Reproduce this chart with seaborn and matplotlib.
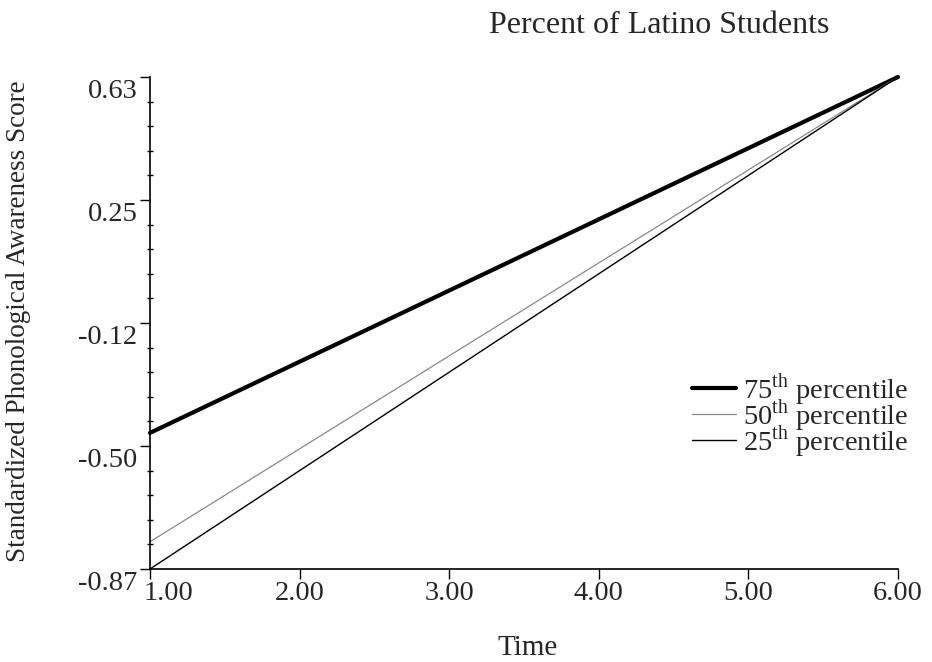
import numpy as np
import pandas as pd
import matplotlib
matplotlib.use('Agg')
import matplotlib.pyplot as plt
import matplotlib.transforms as mtransforms
from matplotlib.ticker import FixedLocator, AutoMinorLocator
import seaborn as sns

# values
time = [1.0, 6.0]
p75 = [-0.455, 0.63]
p50 = [-0.787, 0.63]
p25 = [-0.87, 0.63]
y_ticks = [-0.87, -0.495, -0.12, 0.255, 0.63]
y_labels = ['-0.87', '-0.50', '-0.12', '0.25', '0.63']
x_ticks = [1, 2, 3, 4, 5, 6]
x_labels = ['1.00', '2.00', '3.00', '4.00', '5.00', '6.00']

sns.set_style('white')
plt.rcParams['font.family'] = ['Liberation Serif', 'DejaVu Serif']
plt.rcParams['mathtext.fontset'] = 'custom'
plt.rcParams['mathtext.rm'] = 'Liberation Serif'

fig = plt.figure(figsize=(9.32, 6.62), dpi=100)
ax = fig.add_axes([150/932, 1-569/662, (898-150)/932, (569-77)/662])

df = pd.DataFrame({'time': time * 3,
                   'score': p75 + p50 + p25,
                   'grp': ['75'] * 2 + ['50'] * 2 + ['25'] * 2})

styles = {'75': ('black', 3.0, r'75$^{\mathrm{th}}$ percentile'),
          '50': ('#888888', 0.9, r'50$^{\mathrm{th}}$ percentile'),
          '25': ('black', 1.0, r'25$^{\mathrm{th}}$ percentile')}
for g, (c, lw, lab) in styles.items():
    sns.lineplot(data=df[df.grp == g], x='time', y='score', color=c,
                 linewidth=lw, label=lab, ax=ax, clip_on=False)

ax.set_xlim(1, 6)
ax.set_ylim(-0.87, 0.63)
sns.despine(ax=ax)
for s in ['left', 'bottom']:
    ax.spines[s].set_color('black')
    ax.spines[s].set_linewidth(1.2)

ax.yaxis.set_major_locator(FixedLocator(y_ticks))
ax.set_yticklabels(y_labels)
ax.yaxis.set_minor_locator(AutoMinorLocator(5))
ax.set_xticks(x_ticks)
ax.set_xticklabels(x_labels)
ax.tick_params(axis='both', which='major', labelsize=20.5, direction='out',
               length=7, width=1, color='black', left=True, bottom=True, pad=2)
ax.tick_params(axis='y', which='minor', direction='inout', length=5, width=1,
               color='black', left=True)

# y labels sit a bit below their ticks
down = mtransforms.ScaledTranslation(0, -8/72, fig.dpi_scale_trans)
for t in ax.get_yticklabels():
    t.set_transform(t.get_transform() + down)
first = ax.get_xticklabels()[0]
first.set_horizontalalignment('left')
first.set_transform(first.get_transform() +
                    mtransforms.ScaledTranslation(-5/72, 0, fig.dpi_scale_trans))

ax.set_xlabel('')
ax.set_ylabel('')
fig.text(19/932, 1-321/662, 'Standardized Phonological Awareness Score',
         rotation=90, ha='center', va='center', fontsize=19.5)
fig.text(528/932, 1-655/662, 'Time', ha='center', va='baseline', fontsize=21)
fig.text(659/932, 1-33/662, 'Percent of Latino Students', ha='center',
         va='baseline', fontsize=23)

ax.legend(loc='upper left', bbox_to_anchor=(692/932, 1-371/662),
          bbox_transform=fig.transFigure, frameon=False, fontsize=20.5,
          handlelength=1.55, handletextpad=0.25, labelspacing=-0.35,
          borderpad=0, borderaxespad=0)

fig.savefig('out.png', dpi=100)
